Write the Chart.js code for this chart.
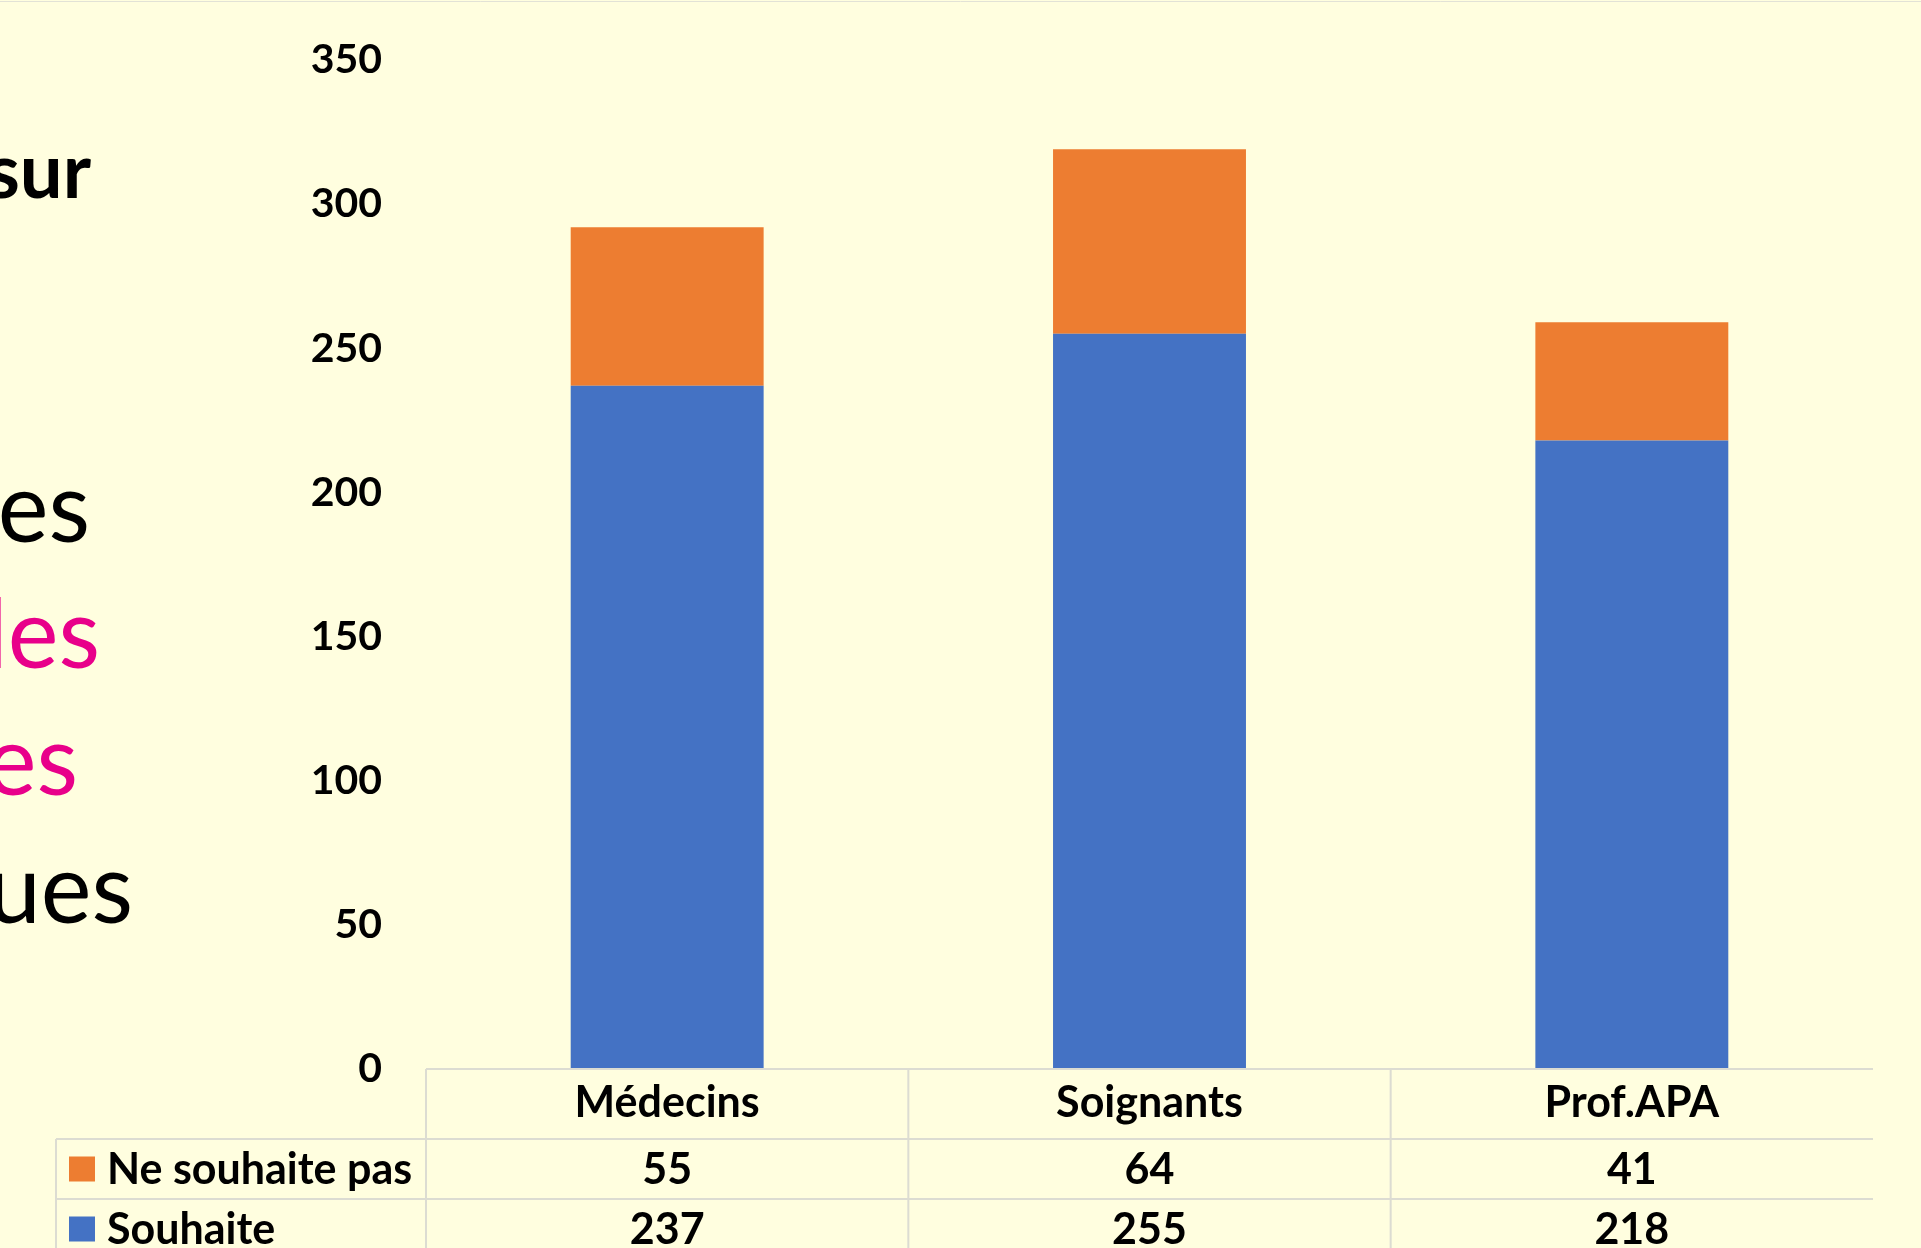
<!DOCTYPE html>
<html lang="fr">
<head>
<meta charset="utf-8">
<title>Souhait par profession</title>
<script src="https://cdn.jsdelivr.net/npm/chart.js@4.4.1/dist/chart.umd.min.js"></script>
<style>
  html, body { margin: 0; padding: 0; background: #FFFEDF; }
  #wrap { width: 1921px; height: 1248px; position: relative; }
  canvas { display: block; }
</style>
</head>
<body>
<div id="wrap"><canvas id="chart" width="1921" height="1248"></canvas></div>
<script>
// Professions interrogées
const categories = ['Médecins', 'Soignants', 'Prof.APA'];
// Réponses par profession
const souhaite = [237, 255, 218];
const neSouhaitePas = [55, 64, 41];
// Graduations de l'axe des valeurs
const yTicks = [0, 50, 100, 150, 200, 250, 300, 350];

const BG = '#FFFEDF';
const BLUE = '#4472C4';
const ORANGE = '#ED7D31';
const GRID = '#DCDCD2';
const FONT = 'Lato, "Open Sans", sans-serif';

// Fond et fragments du texte de la diapositive, à gauche
const backdrop = {
  id: 'backdrop',
  beforeDraw(chart) {
    const c = chart.ctx;
    c.save();
    c.fillStyle = BG;
    c.fillRect(0, 0, chart.width, chart.height);
    c.strokeStyle = '#E2E2D6';
    c.lineWidth = 1;
    c.beginPath(); c.moveTo(0, 1.5); c.lineTo(chart.width, 1.5); c.stroke();
    c.textAlign = 'right';
    c.textBaseline = 'alphabetic';
    c.fillStyle = '#000';
    c.font = 'bold 76px ' + FONT;
    c.fillText('sur', 91, 198);
    c.font = '96px ' + FONT;
    c.fillText('es', 90, 542);
    c.fillStyle = '#E8008A';
    c.fillText('les', 100, 668);
    c.fillText('es', 78, 795);
    c.fillStyle = '#000';
    c.fillText('ues', 133, 923);
    c.restore();
  }
};

// Table de données sous le graphique
const dataTable = {
  id: 'dataTable',
  afterDraw(chart) {
    const c = chart.ctx;
    const x = chart.scales.x;
    const area = chart.chartArea;
    const step = (area.right - area.left) / categories.length;
    const row1 = 1139, row2 = 1199, bottom = chart.height;
    const legendLeft = 56;
    c.save();
    c.strokeStyle = GRID;
    c.lineWidth = 2;
    c.beginPath();
    c.moveTo(area.left, area.bottom); c.lineTo(area.right, area.bottom);
    c.moveTo(legendLeft, row1); c.lineTo(area.right, row1);
    c.moveTo(legendLeft, row2); c.lineTo(area.right, row2);
    for (let i = 0; i < categories.length; i++) {
      const xl = x.getPixelForValue(i) - step / 2;
      c.moveTo(xl, area.bottom); c.lineTo(xl, bottom);
    }
    c.moveTo(legendLeft, row1); c.lineTo(legendLeft, bottom);
    c.stroke();

    const rows = [chart.data.datasets[1], chart.data.datasets[0]];
    const centers = [1169, 1229];
    c.font = 'bold 43px ' + FONT;
    c.textBaseline = 'middle';
    rows.forEach((ds, r) => {
      const cy = centers[r];
      c.fillStyle = ds.backgroundColor;
      c.fillRect(69, cy - 12.5, 26, 25);
      c.fillStyle = '#000';
      c.textAlign = 'left';
      c.fillText(ds.label, 107, cy + 1);
      c.textAlign = 'center';
      ds.data.forEach((v, i) => {
        c.fillText(String(v), x.getPixelForValue(i), cy + 1);
      });
    });
    c.restore();
  }
};

new Chart(document.getElementById('chart'), {
  type: 'bar',
  data: {
    labels: categories,
    datasets: [
      { label: 'Souhaite', data: souhaite, backgroundColor: BLUE, borderWidth: 0 },
      { label: 'Ne souhaite pas', data: neSouhaitePas, backgroundColor: ORANGE, borderWidth: 0 }
    ]
  },
  options: {
    responsive: false,
    animation: false,
    devicePixelRatio: 1,
    layout: { padding: { left: 0, right: 48, top: 60, bottom: 0 } },
    datasets: { bar: { categoryPercentage: 1, barPercentage: 0.4 } },
    plugins: { legend: { display: false }, tooltip: { enabled: false } },
    scales: {
      x: {
        stacked: true,
        grid: { display: false, drawTicks: false },
        border: { display: false },
        ticks: { color: '#000', padding: 8, font: { family: FONT, size: 43, weight: 'bold' }, maxRotation: 0 },
        afterFit(s) { s.height = 1248 - 1069; s.paddingLeft = 0; s.paddingRight = 0; }
      },
      y: {
        stacked: true,
        min: 0,
        max: 350,
        grid: { display: false, drawTicks: false },
        border: { display: false },
        afterBuildTicks(s) { s.ticks = yTicks.map(v => ({ value: v })); },
        ticks: { color: '#000', padding: 44, font: { family: FONT, size: 41, weight: 'bold' } },
        afterFit(s) { s.width = 426; s.paddingTop = 0; s.paddingBottom = 0; }
      }
    }
  },
  plugins: [backdrop, dataTable]
});
</script>
</body>
</html>
